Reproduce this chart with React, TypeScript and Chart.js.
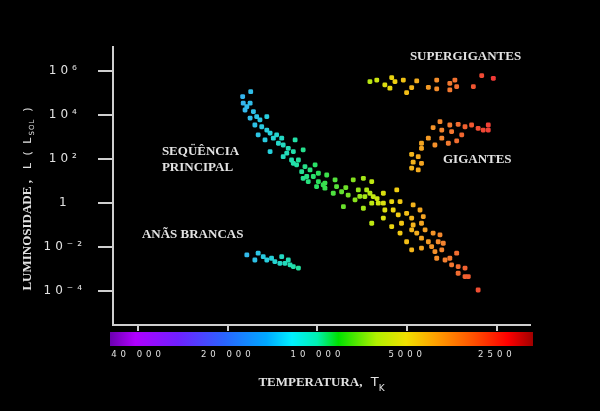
import React, { useEffect, useRef } from "react";
import { Chart, registerables } from "chart.js";

Chart.register(...registerables);

// ---- Axis ticks ----
const TEMP_TICKS = [40000, 20000, 10000, 5000, 2500];
const TEMP_TICK_LABELS = ["40 000", "20 000", "10 000", "5000", "2500"];
const LUM_EXPONENTS = [6, 4, 2, 0, -2, -4];
const LUM_TICK_LABELS = ["10⁶", "10⁴", "10²", "1", "10⁻²", "10⁻⁴"];

// Axis ranges in log10 units (temperature in K, luminosity in L_sol)
const LOG_T_RANGE = [3.287, 4.686];
const LOG_L_RANGE = [-5.54, 7.08];

// ---- Stars: [log10 T (K), log10 L (L_sol)] ----
const MAIN_SEQUENCE: [number, number][] = [
  [4.224, 5.05], [4.251, 4.83], [4.249, 4.53], [4.237, 4.37], [4.226, 4.53], [4.243, 4.22],
  [4.215, 4.15], [4.226, 3.85], [4.204, 3.92], [4.193, 3.77], [4.17, 3.92], [4.21, 3.54],
  [4.187, 3.46], [4.17, 3.31], [4.199, 3.09], [4.159, 3.17], [4.148, 2.94], [4.176, 2.86],
  [4.137, 3.09], [4.12, 2.94], [4.131, 2.71], [4.115, 2.63], [4.159, 2.33], [4.098, 2.48],
  [4.075, 2.86], [4.103, 2.26], [4.081, 2.33], [4.115, 2.1], [4.087, 1.95], [4.064, 1.95],
  [4.048, 2.41], [4.07, 1.73], [4.042, 1.65], [4.053, 1.42], [4.025, 1.5], [4.008, 1.73],
  [4.036, 1.2], [4.014, 1.2], [3.997, 1.35], [3.969, 1.27], [4.031, 0.97], [3.997, 0.97],
  [4.003, 0.74], [3.981, 0.82], [3.975, 0.67], [4.081, 1.8], [4.048, 1.12], [3.975, 0.9],
  [3.941, 1.05], [3.936, 0.74], [3.947, 0.44], [3.919, 0.51], [3.913, -0.17], [3.897, 0.36],
  [3.88, 1.05], [3.874, 0.14], [3.863, 0.59], [3.846, 1.12], [3.841, 0.29], [3.835, 0.59],
  [3.846, -0.24], [3.818, 0.97], [3.824, 0.44], [3.818, -0.01], [3.813, 0.29], [3.796, -0.01],
  [3.779, -0.69], [3.818, -0.92], [3.905, 0.7], [3.858, 0.3], [3.8, 0.2],
  [3.779, 0.44], [3.734, 0.59], [3.779, -0.01], [3.751, 0.06], [3.723, 0.06], [3.774, -0.32],
  [3.746, -0.32], [3.679, -0.09], [3.656, -0.32], [3.729, -0.54], [3.701, -0.47], [3.684, -0.69],
  [3.645, -0.62], [3.751, -1.07], [3.718, -0.92], [3.679, -1.0], [3.651, -0.92], [3.723, -1.37],
  [3.684, -1.22], [3.667, -1.37], [3.639, -1.22], [3.612, -1.37], [3.589, -1.45], [3.701, -1.76],
  [3.651, -1.6], [3.628, -1.76], [3.595, -1.76], [3.578, -1.83], [3.684, -2.13], [3.651, -2.05],
  [3.617, -1.98], [3.606, -2.21], [3.583, -2.13], [3.533, -2.28], [3.6, -2.51], [3.572, -2.59],
  [3.556, -2.51], [3.55, -2.81], [3.528, -2.89], [3.505, -2.96], [3.528, -3.19], [3.505, -3.34],
  [3.494, -3.34], [3.461, -3.95],
];

const WHITE_DWARFS: [number, number][] = [
  [4.237, -2.36], [4.21, -2.59], [4.199, -2.28], [4.182, -2.44], [4.17, -2.59], [4.154, -2.51],
  [4.143, -2.66], [4.12, -2.44], [4.109, -2.74], [4.098, -2.59], [4.092, -2.81], [4.081, -2.89],
  [4.064, -2.96], [4.126, -2.74],
];

const GIANTS: [number, number][] = [
  [3.589, 3.69], [3.612, 3.42], [3.583, 3.31], [3.556, 3.54], [3.528, 3.57], [3.505, 3.46],
  [3.483, 3.54], [3.461, 3.39], [3.444, 3.31], [3.427, 3.54], [3.427, 3.31], [3.55, 3.24],
  [3.516, 3.09], [3.628, 2.94], [3.583, 2.94], [3.533, 2.82], [3.651, 2.71], [3.561, 2.71],
  [3.606, 2.63], [3.651, 2.48], [3.684, 2.21], [3.662, 2.1], [3.679, 1.85], [3.651, 1.8],
  [3.684, 1.58], [3.662, 1.5],
];

const SUPERGIANTS: [number, number][] = [
  [3.824, 5.51], [3.801, 5.58], [3.774, 5.36], [3.751, 5.69], [3.74, 5.51], [3.757, 5.21],
  [3.712, 5.58], [3.684, 5.24], [3.701, 5.01], [3.667, 5.54], [3.628, 5.25], [3.6, 5.58],
  [3.6, 5.18], [3.556, 5.43], [3.539, 5.58], [3.556, 5.13], [3.533, 5.28], [3.477, 5.28],
  [3.449, 5.78], [3.41, 5.66],
];

// Region names, anchored (left edge, middle) in data units
const REGION_LABELS = [
  { text: "SUPERGIGANTES", logT: 3.69, logL: 6.63 },
  { text: "GIGANTES", logT: 3.579, logL: 1.95 },
  { text: "SEQÜÊNCIA", logT: 4.522, logL: 2.32 },
  { text: "PRINCIPAL", logT: 4.522, logL: 1.59 },
  { text: "ANÃS BRANCAS", logT: 4.589, logL: -1.45 },
];

// ---- Styles ----
const BAR_STOPS: [number, string][] = [
  [0, "#6a00b0"], [0.06, "#b000ff"], [0.16, "#7020ff"], [0.27, "#2a64ff"], [0.37, "#00a8ff"],
  [0.43, "#00f0ff"], [0.49, "#00f0b0"], [0.54, "#00e000"], [0.63, "#b0f000"], [0.7, "#f0e000"],
  [0.77, "#ffa000"], [0.86, "#ff5000"], [0.94, "#ff0000"], [1, "#a00000"],
];
const POINT_STOPS: [number, string][] = [
  [0, "#a020ff"], [0.2, "#3070ff"], [0.317, "#34b8ec"], [0.376, "#26d0dc"], [0.436, "#22e0a8"],
  [0.496, "#2ce058"], [0.568, "#78e020"], [0.628, "#c8e810"], [0.676, "#f0d010"],
  [0.736, "#f4a820"], [0.796, "#f48030"], [0.856, "#f05a30"], [0.916, "#f03838"], [1, "#e02020"],
];
const SERIF = "'Liberation Serif', 'DejaVu Serif', serif";
const SANS = "'DejaVu Sans', sans-serif";
const TEXT = "#e2e2e2";
const AXIS = "#cfcfcf";

function hexRgb(h: string) {
  const n = parseInt(h.slice(1), 16);
  return [(n >> 16) & 255, (n >> 8) & 255, n & 255];
}
function colorAt(stops: [number, string][], f: number) {
  const t = Math.min(1, Math.max(0, f));
  for (let i = 1; i < stops.length; i++) {
    if (t <= stops[i][0]) {
      const [p0, c0] = stops[i - 1];
      const [p1, c1] = stops[i];
      const k = (t - p0) / (p1 - p0 || 1);
      const a = hexRgb(c0), b = hexRgb(c1);
      const m = a.map((v, j) => Math.round(v + (b[j] - v) * k));
      return `rgb(${m[0]},${m[1]},${m[2]})`;
    }
  }
  return stops[stops.length - 1][1];
}
const pointColor = (c: any) => {
  const v = c.raw && c.raw.x;
  if (v == null) return "#fff";
  return colorAt(POINT_STOPS, (LOG_T_RANGE[1] - v) / (LOG_T_RANGE[1] - LOG_T_RANGE[0]));
};

function drawParts(ctx: CanvasRenderingContext2D, parts: any[], cx: number, baseY: number) {
  let total = 0;
  const widths = parts.map((p) => {
    ctx.font = p.font;
    (ctx as any).letterSpacing = p.spacing || "0px";
    const w = ctx.measureText(p.text).width;
    total += w;
    return w;
  });
  let x = cx - total / 2;
  parts.forEach((p, i) => {
    ctx.font = p.font;
    (ctx as any).letterSpacing = p.spacing || "0px";
    ctx.fillText(p.text, x, baseY + (p.dy || 0));
    x += widths[i];
  });
  (ctx as any).letterSpacing = "0px";
}

const hrPlugin = {
  id: "hrDecor",
  beforeDraw(chart: any) {
    const { ctx, width, height, chartArea: a } = chart;
    ctx.save();
    ctx.letterSpacing = "0px";
    ctx.fillStyle = "#000";
    ctx.fillRect(0, 0, width, height);
    const x0 = a.left - 3, x1 = a.right + 3, y0 = a.bottom + 7;
    const g = ctx.createLinearGradient(x0, 0, x1, 0);
    for (const [p, c] of BAR_STOPS) g.addColorStop(p, c);
    ctx.fillStyle = g;
    ctx.fillRect(x0, y0, x1 - x0, 14);
    ctx.restore();
  },
  afterDatasetsDraw(chart: any) {
    chart.ctx.letterSpacing = "4px";
  },
  afterDraw(chart: any) {
    const { ctx, chartArea: a, scales } = chart;
    ctx.letterSpacing = "0px";
    ctx.save();
    ctx.fillStyle = TEXT;
    ctx.textAlign = "left";
    ctx.textBaseline = "middle";
    ctx.font = `bold 13px ${SERIF}`;
    for (const r of REGION_LABELS) {
      ctx.fillText(r.text, scales.x.getPixelForValue(r.logT), scales.y.getPixelForValue(r.logL));
    }
    ctx.textBaseline = "alphabetic";
    // x axis title
    drawParts(
      ctx,
      [
        { text: "TEMPERATURA,", font: `bold 13px ${SERIF}` },
        { text: "  T", font: `13px ${SANS}` },
        { text: "K", font: `9px ${SANS}`, dy: 5 },
      ],
      (a.left + a.right) / 2,
      a.bottom + 61
    );
    // y axis title
    ctx.save();
    ctx.translate(31, 199);
    ctx.rotate(-Math.PI / 2);
    drawParts(
      ctx,
      [
        { text: "LUMINOSIDADE ,", font: `bold 13px ${SERIF}` },
        { text: "  L ( L", font: `11px ${SANS}`, spacing: "2px" },
        { text: "SOL", font: `7px ${SANS}`, dy: 3, spacing: "1px" },
        { text: "  )", font: `11px ${SANS}` },
      ],
      0,
      0
    );
    ctx.restore();
    ctx.restore();
  },
};

export default function App() {
  const ref = useRef<HTMLCanvasElement>(null);
  useEffect(() => {
    document.body.style.margin = "0";
    document.body.style.background = "#000";
    const canvas = ref.current!;
    const ds = (label: string, arr: [number, number][]) => ({
      label,
      data: arr.map(([x, y]) => ({ x, y })),
      pointStyle: "rectRounded",
      pointRadius: 2.8,
      pointHoverRadius: 2.8,
      borderWidth: 0,
      backgroundColor: pointColor,
      borderColor: pointColor,
    });
    const chart = new Chart(canvas, {
      type: "scatter",
      data: {
        datasets: [
          ds("Sequência principal", MAIN_SEQUENCE),
          ds("Anãs brancas", WHITE_DWARFS),
          ds("Gigantes", GIANTS),
          ds("Supergigantes", SUPERGIANTS),
        ],
      },
      options: {
        responsive: false,
        animation: false,
        devicePixelRatio: 1,
        layout: { padding: { left: 0, top: 47, right: 70, bottom: 0 } },
        plugins: {
          legend: { display: false },
          tooltip: { enabled: false },
          title: { display: false },
        },
        scales: {
          x: {
            type: "linear",
            reverse: true,
            min: LOG_T_RANGE[0],
            max: LOG_T_RANGE[1],
            afterBuildTicks: (s: any) => {
              s.ticks = TEMP_TICKS.map((t) => ({ value: Math.log10(t) }));
            },
            afterFit: (s: any) => {
              s.height = 86;
            },
            ticks: {
              autoSkip: false,
              maxRotation: 0,
              minRotation: 0,
              padding: 19,
              color: TEXT,
              font: { family: SANS, size: 8.5 },
              z: 1,
              callback: (v: number) => {
                const i = TEMP_TICKS.findIndex((t) => Math.abs(Math.log10(t) - v) < 1e-6);
                return i >= 0 ? TEMP_TICK_LABELS[i] : "";
              },
            },
            grid: { display: true, drawOnChartArea: false, drawTicks: true, tickLength: 6, color: AXIS, lineWidth: 2 },
            border: { display: true, color: AXIS, width: 2 },
            title: { display: false },
          },
          y: {
            type: "linear",
            min: LOG_L_RANGE[0],
            max: LOG_L_RANGE[1],
            afterBuildTicks: (s: any) => {
              s.ticks = LUM_EXPONENTS.map((e) => ({ value: e }));
            },
            afterFit: (s: any) => {
              s.width = 113;
            },
            ticks: {
              autoSkip: false,
              padding: 20,
              crossAlign: "center",
              color: TEXT,
              font: { family: SANS, size: 12 },
              z: 1,
              callback: (v: number) => {
                const i = LUM_EXPONENTS.indexOf(Math.round(v));
                return i >= 0 ? LUM_TICK_LABELS[i] : "";
              },
            },
            grid: { display: true, drawOnChartArea: false, drawTicks: true, tickLength: 15, color: AXIS, lineWidth: 2 },
            border: { display: true, color: AXIS, width: 2 },
            title: { display: false },
          },
        },
      },
      plugins: [hrPlugin],
    } as any);
    return () => chart.destroy();
  }, []);
  return (
    <canvas
      ref={ref}
      width={600}
      height={411}
      style={{ display: "block", width: 600, height: 411, background: "#000" }}
    />
  );
}
